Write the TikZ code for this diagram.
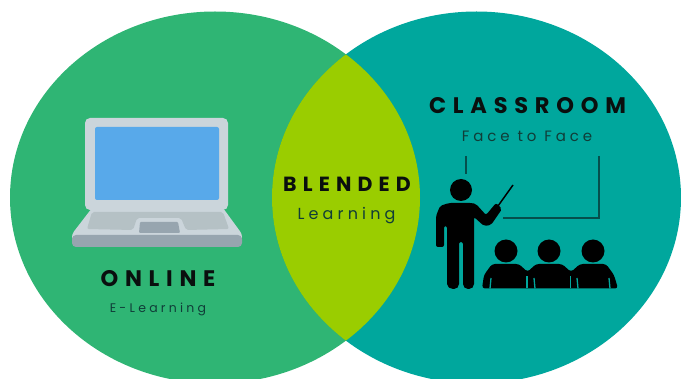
\documentclass[tikz,border=0pt]{standalone}
\usepackage{fontspec}
\setmainfont{Poppins}
\newfontfamily\headfont[LetterSpace=30]{Poppins}
\newfontfamily\subfont[LetterSpace=26]{Poppins}
\definecolor{cgreen}{HTML}{2FB574}
\definecolor{cteal}{HTML}{00A79D}
\definecolor{clime}{HTML}{9ACD00}
\definecolor{lapbody}{HTML}{CBD5DB}
\definecolor{lapscreen}{HTML}{58A9EA}
\definecolor{lapkeys}{HTML}{B5C1C5}
\definecolor{lapdark}{HTML}{97A5AF}
\definecolor{inkdark}{HTML}{0A0F0E}
\definecolor{subink}{HTML}{103D38}
\definecolor{boardline}{HTML}{05504C}
\tikzset{
  px/.style={x=1pt,y=-1pt},
  heading/.style={font=\headfont\bfseries\fontsize{#1}{#1}\selectfont,text=inkdark,inner sep=0pt,anchor=center},
  subheading/.style={font=\subfont\fontsize{#1}{#1}\selectfont,text=subink,inner sep=0pt,anchor=center},
  person/.style={fill=black,draw=none},
  boardstroke/.style={draw=boardline,line width=1.6pt},
  armgap/.style={draw=cteal,line width=1.3pt},
}
\begin{document}
\begin{tikzpicture}[px]
\useasboundingbox (0,0) rectangle (681,379);
\begin{scope}
\clip (0,0) rectangle (681,379);
\fill[cgreen] (215,197.5) ellipse [x radius=205,y radius=186];
\fill[cteal] (476.5,197.5) ellipse [x radius=204.5,y radius=186];
\begin{scope}
\clip (215,197.5) ellipse [x radius=205,y radius=186];
\fill[clime] (476.5,197.5) ellipse [x radius=204.5,y radius=186];
\end{scope}
\end{scope}
% laptop
\fill[lapbody,rounded corners=5pt] (85,118) rectangle (228,210);
\fill[lapscreen,rounded corners=2pt] (95,127) rectangle (219,200);
\fill[lapbody,rounded corners=3pt] (92,208) -- (223,208) -- (242,234) -- (242,240) -- (72,240) -- (72,234) -- cycle;
\fill[lapdark,rounded corners=4pt] (72,235) -- (242,235) -- (242,247) -- (72,247) -- cycle;
\fill[lapkeys,rounded corners=2pt] (92,212) -- (223,212) -- (229,229) -- (186,230) -- (181,218) -- (137,218) -- (133,230) -- (87,229) -- cycle;
\fill[lapdark,rounded corners=1pt] (140,222) -- (178,222) -- (180,233) -- (139,233) -- cycle;
% board
\draw[boardstroke] (466,156) -- (466,174);
\draw[boardstroke] (599,156) -- (599,218) -- (503,218);
% teacher
\fill[person] (461,190) circle (11);
\fill[person,rounded corners=2pt] (449,203) -- (472,203) -- (476,204) -- (486,215) -- (496,203) -- (502,209) -- (491,225) -- (484,226) -- (474,217) -- (474,286) -- (471,289) -- (466,289) -- (463,286) -- (463,242) -- (459,242) -- (459,286) -- (456,289) -- (451,289) -- (447,286) -- (447,226) -- (444,226) -- (444,247) -- (436,247) -- (436,216) -- (440,206) -- cycle;
\draw[draw=black,line width=1.5pt] (498,206) -- (513,185);
% students
\foreach \hx in {506,549,593} \fill[person] (\hx,251) circle (11.5);
\fill[person,rounded corners=3pt] (482,288.5) -- (484,275) -- (492,264) -- (519,264) -- (527.5,272) -- (536,264) -- (562,264) -- (571,272) -- (580,264) -- (606,264) -- (614,275) -- (618,288.5) -- cycle;
\draw[armgap] (490,288.5) -- (491,278);
\draw[armgap] (527,288.5) -- (527,276);
\draw[armgap] (535,288.5) -- (534,278);
\draw[armgap] (570.5,288.5) -- (570.5,276);
\draw[armgap] (578,288.5) -- (577,278);
\draw[armgap] (610,288.5) -- (609,278);
% labels
\node[heading=22.5] (online) at (158,279) {ONLINE};
\node[subheading=12.5] (elearn) at (158,309) {E-Learning};
\node[heading=20.5] (blended) at (347,184) {BLENDED};
\node[subheading=16] (learning) at (346.5,216) {Learning};
\node[heading=22.5] (classroom) at (527.5,106) {CLASSROOM};
\node[subheading=15] (face) at (527,136) {Face to Face};
\end{tikzpicture}
\end{document}
